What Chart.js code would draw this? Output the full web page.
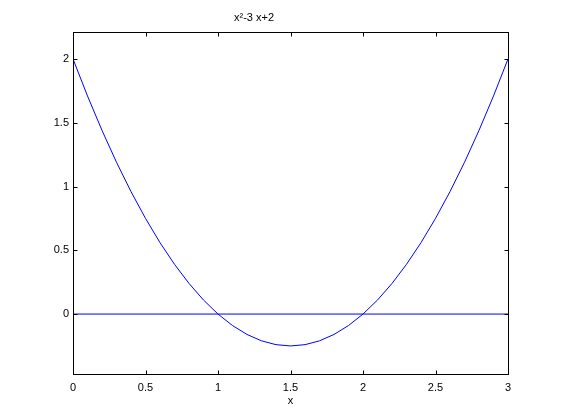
<!DOCTYPE html>
<html>
<head>
<meta charset="utf-8">
<script src="https://cdn.jsdelivr.net/npm/chart.js@4/dist/chart.umd.min.js"></script>
<style>
html,body{margin:0;padding:0;background:#fff;}
#wrap{width:561px;height:420px;}
</style>
</head>
<body>
<div id="wrap"><canvas id="c" width="561" height="420"></canvas></div>
<script>
const titleText = 'x²-3 x+2';
const xLabel = 'x';
const xs = [0,0.1,0.2,0.3,0.4,0.5,0.6,0.7,0.8,0.9,1.0,1.1,1.2,1.3,1.4,1.5,1.6,1.7,1.8,1.9,2.0,2.1,2.2,2.3,2.4,2.5,2.6,2.7,2.8,2.9,3.0];
const ys = [2,1.71,1.44,1.19,0.96,0.75,0.56,0.39,0.24,0.11,0,-0.09,-0.16,-0.21,-0.24,-0.25,-0.24,-0.21,-0.16,-0.09,0,0.11,0.24,0.39,0.56,0.75,0.96,1.19,1.44,1.71,2];
const zeroX = [0,3];
const zeroY = [0,0];
const xTicks = [0,0.5,1,1.5,2,2.5,3];
const yTicks = [0,0.5,1,1.5,2];
const xRange = [0,3];
const yRange = [-0.47,2.21];

const FONT = 'Liberation Sans, Arial, Helvetica, sans-serif';

const framePlugin = {
  id: 'frame',
  afterDraw(chart){
    const ctx = chart.ctx, a = chart.chartArea;
    const xs_ = chart.scales.x, ys_ = chart.scales.y;
    ctx.save();
    ctx.strokeStyle = '#000';
    ctx.lineWidth = 1;
    const L = Math.round(a.left)+0.5, R = Math.round(a.right)+0.5, T = Math.round(a.top)+0.5, B = Math.round(a.bottom)+0.5;
    ctx.strokeRect(L, T, R-L, B-T);
    const len = 4;
    ctx.beginPath();
    xs_.ticks.forEach(t=>{
      const px = Math.round(xs_.getPixelForValue(t.value))+0.5;
      ctx.moveTo(px,B); ctx.lineTo(px,B-len);
      ctx.moveTo(px,T); ctx.lineTo(px,T+len);
    });
    ys_.ticks.forEach(t=>{
      const py = Math.round(ys_.getPixelForValue(t.value))+0.5;
      ctx.moveTo(L,py); ctx.lineTo(L+len,py);
      ctx.moveTo(R,py); ctx.lineTo(R-len,py);
    });
    ctx.stroke();
    ctx.restore();
  }
};

new Chart(document.getElementById('c'), {
  type: 'scatter',
  data: {
    datasets: [
      { data: xs.map((x,i)=>({x:x,y:ys[i]})), showLine:true, borderColor:'#0000ff', borderWidth:1, pointRadius:0, tension:0 },
      { data: zeroX.map((x,i)=>({x:x,y:zeroY[i]})), showLine:true, borderColor:'#0000ff', borderWidth:1, pointRadius:0 }
    ]
  },
  options: {
    responsive:false,
    animation:false,
    devicePixelRatio:1,
    layout:{ padding:{ left:0, right:53, top:0, bottom:0 } },
    plugins:{
      legend:{display:false},
      tooltip:{enabled:false},
      title:{ display:true, text:titleText, color:'#000', font:{family:FONT,size:11,weight:'normal'}, padding:{top:11,bottom:8} }
    },
    scales:{
      x:{
        type:'linear', min:xRange[0], max:xRange[1],
        afterBuildTicks(s){ s.ticks = xTicks.map(v=>({value:v})); },
        afterFit(s){ s.height = 46; },
        grid:{display:false, drawTicks:false},
        border:{display:false},
        ticks:{ color:'#000', font:{family:FONT,size:11}, padding:7, maxRotation:0, callback:v=>String(v) },
        title:{ display:true, text:xLabel, color:'#000', font:{family:FONT,size:11}, padding:{top:0,bottom:12} }
      },
      y:{
        type:'linear', min:yRange[0], max:yRange[1],
        afterBuildTicks(s){ s.ticks = yTicks.map(v=>({value:v})); },
        afterFit(s){ s.width = 73; },
        grid:{display:false, drawTicks:false},
        border:{display:false},
        ticks:{ color:'#000', font:{family:FONT,size:11}, padding:4, callback:v=>String(v) }
      }
    }
  },
  plugins:[framePlugin]
});
</script>
</body>
</html>
